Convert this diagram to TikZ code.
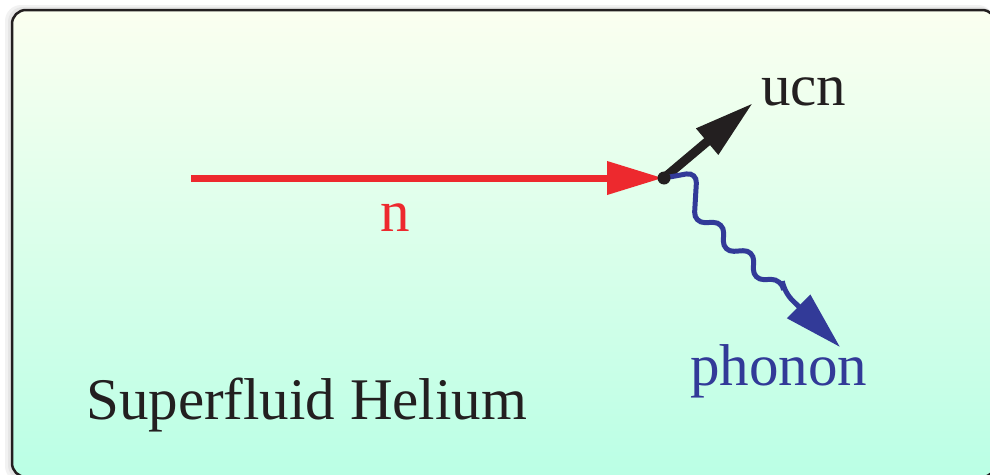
\documentclass[tikz,border=0pt]{standalone}
\usepackage{fontspec}
\setmainfont{Liberation Serif}
\usetikzlibrary{arrows.meta}
\definecolor{nred}{RGB}{237,41,46}
\definecolor{pblue}{RGB}{50,58,152}
\definecolor{ink}{RGB}{35,31,32}
\definecolor{topc}{RGB}{251,255,240}
\definecolor{botc}{RGB}{186,255,229}
\begin{document}
\begin{tikzpicture}[x=1pt,y=-1pt,
  lbl/.style={inner sep=0,font=\fontsize{59}{60}\selectfont},
  vertexdot/.style={circle,fill=ink,inner sep=0,minimum size=13pt}]
\useasboundingbox (0,0) rectangle (990,474);
% shadow
\fill[black,opacity=0.05,rounded corners=16pt] (5,5) rectangle (994,482);
\fill[black,opacity=0.05,rounded corners=15pt] (8,7) rectangle (995,480);
% panel
\path[draw=ink,line width=2.5pt,rounded corners=14pt,top color=topc,bottom color=botc]
  (12,10) rectangle (996,477);
% nodes
\coordinate (vc) at (664,178);
\coordinate (start) at (191,178);
\coordinate (ntip) at (663,178);
\coordinate (ucntip) at (753,103);
\coordinate (phtip) at (840,347);
\node[lbl,text=nred,anchor=base] (nlab) at (395,231) {n};
\node[lbl,text=ink,anchor=base west] (ucnlab) at (761,105) {ucn};
\node[lbl,text=pblue,anchor=base west] (phlab) at (690,385) {phonon};
\node[lbl,text=ink,anchor=base west] (helium) at (86,419) {Superfluid Helium};
% connectors
\draw[nred,line width=7pt,-{Triangle[length=56pt,width=32pt]}] (start) -- (ntip);
\draw[ink,line width=9pt,-{Triangle[length=60pt,width=32pt]}] (vc) -- (ucntip);
\draw[pblue,line width=5pt,rounded corners=11pt,-{Triangle[length=58pt,width=32pt]}]
  (vc) -- (697,172) -- (694,223) -- (724,222) -- (723,252) -- (754,250)
  -- (753,280) -- (782,279) -- (784,292) -- (phtip);
\node[vertexdot] (v) at (vc) {};
\end{tikzpicture}
\end{document}
